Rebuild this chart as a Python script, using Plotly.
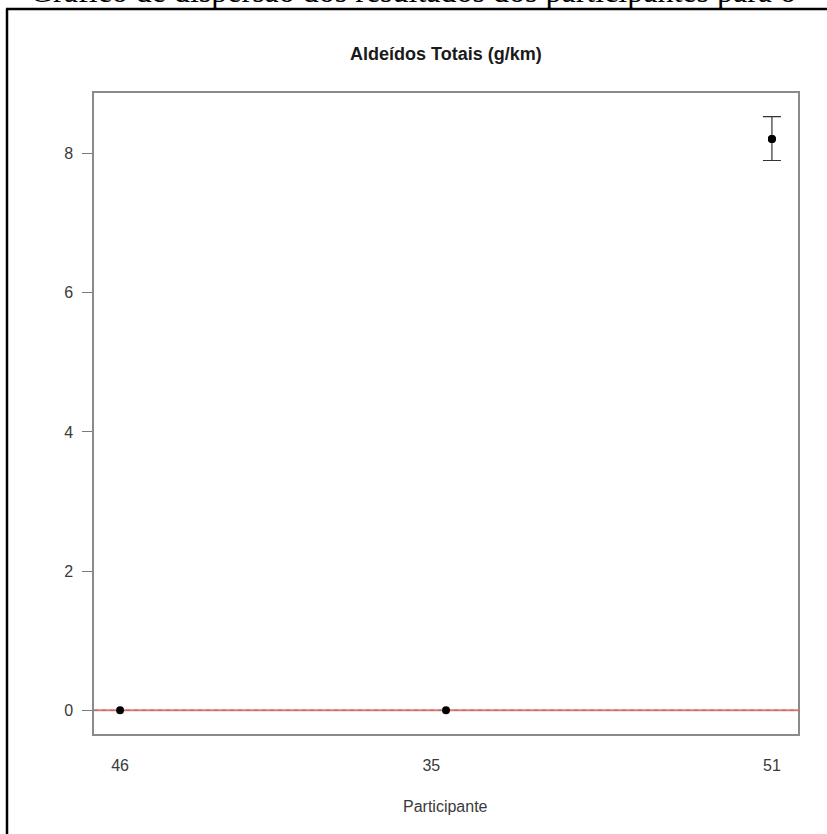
import plotly.graph_objects as go

# ---- data ----
participantes = ["46", "35", "51"]
valores = [0.0, 0.0, 8.21]
erro_sup = [0.0, 0.0, 0.32]
erro_inf = [0.0, 0.0, 0.31]
y_ticks = [0, 2, 4, 6, 8]
titulo = "Aldeídos Totais (g/km)"
eixo_x = "Participante"
legenda_doc = "Gráfico de dispersão dos resultados dos participantes para o"

# ---- geometry helpers (pixel -> paper) ----
W, H = 827, 834
L, R, T, B = 94, 798, 93, 734


def px(x):
    return (x - L) / (R - L)


def py(y):
    return (B - y) / (B - T)


xs = list(range(1, len(participantes) + 1))
tick_pos = [xs[0], xs[1] - 0.045, xs[2]]

fig = go.Figure()

# reference line at zero: red base + gray dashes
fig.add_shape(type="line", xref="paper", yref="y", x0=0, x1=1, y0=0, y1=0,
              line=dict(color="#f07070", width=1.8), layer="below")
fig.add_shape(type="line", xref="paper", yref="y", x0=0, x1=1, y0=0, y1=0,
              line=dict(color="#808080", width=1.0, dash="4px,4px"), layer="below")

fig.add_trace(go.Scatter(
    x=xs, y=valores, mode="markers",
    marker=dict(color="black", size=8),
    hoverinfo="skip", showlegend=False))

# error bars only for points with nonzero error
idx = [i for i in range(len(valores)) if erro_sup[i] > 0 or erro_inf[i] > 0]
fig.add_trace(go.Scatter(
    x=[xs[i] for i in idx], y=[valores[i] for i in idx], mode="markers",
    marker=dict(color="black", size=8),
    error_y=dict(type="data", symmetric=False,
                 array=[erro_sup[i] for i in idx],
                 arrayminus=[erro_inf[i] for i in idx],
                 color="#333333", thickness=1.2, width=9),
    hoverinfo="skip", showlegend=False))

fig.update_xaxes(
    range=[0.92, 3.08], tickmode="array", tickvals=tick_pos, ticktext=participantes,
    showgrid=False, zeroline=False, showline=True, mirror=True,
    linecolor="#8a8a8a", linewidth=1.5, ticks="outside", ticklen=0,
    tickfont=dict(family="Liberation Sans, Arial", size=16, color="#3a3a3a"),
    ticklabelstandoff=16)
fig.update_yaxes(
    range=[-0.341, 8.87], tickmode="array", tickvals=y_ticks,
    showgrid=False, zeroline=False, showline=True, mirror=True,
    linecolor="#8a8a8a", linewidth=1.5, ticks="outside", ticklen=10,
    tickcolor="#7a7a7a", tickwidth=1.2,
    tickfont=dict(family="Liberation Sans, Arial", size=16, color="#3a3a3a"),
    ticklabelstandoff=6)

annotations = [
    dict(text=f"<b>{titulo}</b>", x=px(446), y=py(54), xref="paper", yref="paper",
         xanchor="center", yanchor="middle", showarrow=False,
         font=dict(family="Liberation Sans, Arial", size=18, color="#1a1a1a")),
    dict(text=eixo_x, x=px(445), y=py(806), xref="paper", yref="paper",
         xanchor="center", yanchor="middle", showarrow=False,
         font=dict(family="Liberation Sans, Arial", size=16, color="#3a3a3a")),
    dict(text=legenda_doc, x=px(28), y=py(11), xref="paper", yref="paper",
         xanchor="left", yanchor="bottom", showarrow=False,
         font=dict(family="Liberation Serif, Times New Roman", size=32, color="black")),
]

shapes_extra = [
    # document frame (left and top edges)
    dict(type="line", xref="paper", yref="paper", x0=px(7), x1=px(7), y0=py(9), y1=py(H + 5),
         line=dict(color="black", width=2.5)),
    dict(type="line", xref="paper", yref="paper", x0=px(6), x1=px(W + 5), y0=py(9), y1=py(9),
         line=dict(color="black", width=2.5)),
]
for s in shapes_extra:
    fig.add_shape(**s)

fig.update_layout(
    width=W, height=H,
    margin=dict(l=L, r=W - R, t=T, b=H - B, pad=0),
    paper_bgcolor="white", plot_bgcolor="white",
    annotations=annotations,
)

fig.write_html(
    "out.html",
    config={"displayModeBar": False},
    post_script="document.body.style.margin='0';document.body.style.padding='0';"
                "document.body.style.overflow='hidden';",
)
